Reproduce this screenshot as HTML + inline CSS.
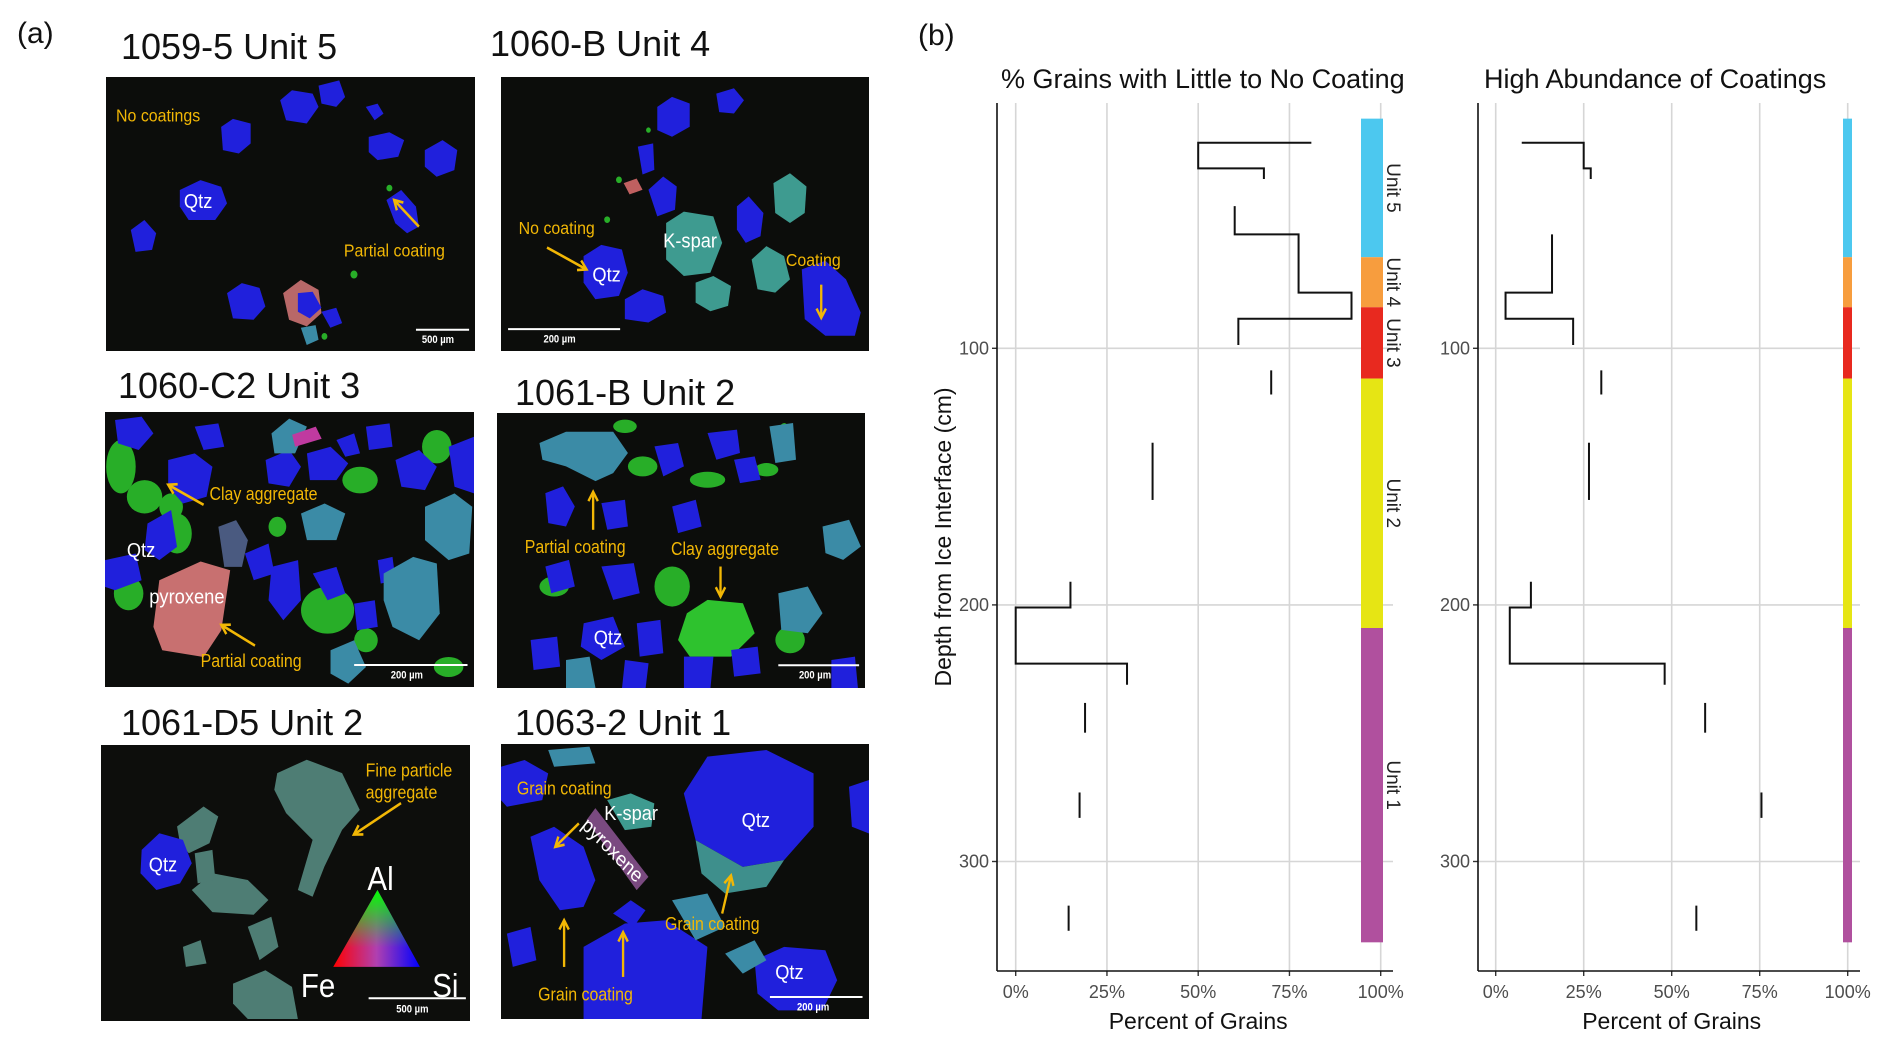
<!DOCTYPE html>
<html><head><meta charset="utf-8">
<style>
html,body{margin:0;padding:0;background:#fff;}
body{width:1892px;height:1043px;position:relative;overflow:hidden;font-family:"Liberation Sans",sans-serif;}
.ttl{position:absolute;font-size:36px;color:#111;white-space:nowrap;line-height:1;}
.pl{position:absolute;font-size:30px;color:#111;line-height:1;}
svg.img{position:absolute;}
.y{fill:#f2b705;font-family:"Liberation Sans",sans-serif;font-size:27px;}
.w{fill:#fff;font-family:"Liberation Sans",sans-serif;font-size:31px;}
.sb{fill:#fff;font-family:"Liberation Sans",sans-serif;font-size:16px;font-weight:bold;}
.b{fill:#2020dc;}.t{fill:#3b8ba6;}.g{fill:#2ecb2e;opacity:.85;}.ag{fill:#4e7d74;}
</style></head><body>
<svg width="0" height="0" style="position:absolute"><defs>
<marker id="ah" viewBox="0 0 10 10" refX="8" refY="5" markerWidth="5" markerHeight="5" orient="auto"><path d="M1,1 L8,5 L1,9" fill="none" stroke="#f2b705" stroke-width="2"/></marker>
<linearGradient id="tri1" x1="0" y1="0" x2="1" y2="0"><stop offset="0" stop-color="#ff0000"/><stop offset=".5" stop-color="#b040b0"/><stop offset="1" stop-color="#0000ff"/></linearGradient>
<linearGradient id="tri2" x1="0" y1="0" x2="0" y2="1"><stop offset="0" stop-color="#00ff00"/><stop offset=".75" stop-color="#00ff00" stop-opacity="0"/></linearGradient>
</defs></svg>

<div class="pl" style="left:17px;top:19px">(a)</div>
<div class="ttl" style="left:121px;top:29px">1059-5 Unit 5</div>
<div class="ttl" style="left:490px;top:26px">1060-B Unit 4</div>
<div class="ttl" style="left:118px;top:368px">1060-C2 Unit 3</div>
<div class="ttl" style="left:515px;top:375px">1061-B Unit 2</div>
<div class="ttl" style="left:121px;top:705px">1061-D5 Unit 2</div>
<div class="ttl" style="left:515px;top:705px">1063-2 Unit 1</div>

<!-- image 1 -->
<svg class="img" style="left:106px;top:77px" width="369" height="274" viewBox="180 115 625 412" preserveAspectRatio="none">
<rect x="180" y="115" width="625" height="412" fill="#0c0d0b"/>
<polygon class="b" points="375,190 395,178 425,185 425,215 405,230 378,225"/>
<polygon class="b" points="475,150 495,135 530,140 540,160 520,185 485,180"/>
<polygon class="b" points="540,128 575,120 585,145 570,160 545,155"/>
<polygon class="b" points="620,160 640,155 650,170 635,180"/>
<polygon class="b" points="625,205 660,198 685,210 675,235 640,240 625,228"/>
<polygon class="b" points="720,225 750,210 775,225 770,255 740,265 720,250"/>
<polygon class="b" points="305,285 340,270 375,280 385,305 365,330 320,330 305,310"/>
<polygon class="b" points="222,345 245,330 265,350 258,375 230,378"/>
<polygon class="b" points="655,300 680,285 705,310 710,340 690,350 670,335"/>
<polygon class="b" points="385,440 410,425 440,432 450,460 430,480 395,478"/>
<polygon fill="#b86868" points="480,440 510,420 540,435 545,470 520,490 490,480"/>
<polygon class="b" points="505,440 530,438 545,462 525,478 505,468"/>
<polygon class="b" points="545,468 570,462 580,485 560,492"/>
<polygon class="t" points="510,492 535,488 540,510 520,518"/>
<circle class="g" cx="600" cy="412" r="6"/><circle class="g" cx="660" cy="282" r="5"/><circle class="g" cx="550" cy="505" r="5"/>
<text class="y" x="197" y="182">No coatings</text>
<text class="w" x="312" y="312">Qtz</text>
<text class="y" x="583" y="385">Partial coating</text>
<line x1="710" y1="340" x2="668" y2="300" stroke="#f2b705" stroke-width="4" marker-end="url(#ah)"/>
<line x1="705" y1="495" x2="795" y2="495" stroke="#fff" stroke-width="3"/>
<text class="sb" x="715" y="515">500 µm</text>
</svg>

<!-- image 2 -->
<svg class="img" style="left:501px;top:77px" width="368" height="274" viewBox="850 115 624 413" preserveAspectRatio="none">
<rect x="850" y="115" width="624" height="413" fill="#0c0d0b"/>
<polygon class="b" points="1115,160 1140,145 1170,155 1170,190 1140,205 1115,195"/>
<polygon class="b" points="1215,140 1245,132 1262,150 1245,170 1220,168"/>
<polygon class="b" points="1082,220 1108,215 1110,255 1090,262"/>
<polygon class="b" points="1100,285 1125,265 1148,280 1145,315 1115,325"/>
<polygon fill="#c06060" points="1058,275 1080,268 1090,285 1068,292"/>
<polygon fill="#3e9b90" points="1130,335 1160,318 1210,325 1225,365 1205,410 1160,415 1130,390"/>
<polygon class="b" points="1250,310 1270,295 1295,320 1290,355 1265,365 1250,345"/>
<polygon fill="#3e9b90" points="1312,275 1340,260 1368,280 1365,320 1340,335 1315,320"/>
<polygon fill="#3e9b90" points="1275,390 1300,370 1330,385 1340,420 1315,440 1285,435"/>
<polygon class="b" points="990,385 1020,368 1055,375 1065,410 1050,445 1010,450 990,425"/>
<polygon class="b" points="1060,450 1090,435 1125,445 1130,470 1100,485 1060,480"/>
<polygon fill="#3e9b90" points="1180,425 1210,415 1240,430 1235,460 1205,468 1180,455"/>
<polygon class="b" points="1360,405 1400,392 1435,420 1460,470 1450,505 1400,505 1365,480"/>
<circle class="g" cx="1050" cy="270" r="5"/><circle class="g" cx="1030" cy="330" r="5"/><circle class="g" cx="1100" cy="195" r="4"/>
<text class="y" x="880" y="352">No coating</text>
<text class="w" x="1125" y="372">K-spar</text>
<text class="w" x="1005" y="423">Qtz</text>
<text class="y" x="1333" y="400">Coating</text>
<line x1="928" y1="372" x2="995" y2="405" stroke="#f2b705" stroke-width="4" marker-end="url(#ah)"/>
<line x1="1393" y1="428" x2="1393" y2="478" stroke="#f2b705" stroke-width="4" marker-end="url(#ah)"/>
<line x1="862" y1="495" x2="1052" y2="495" stroke="#fff" stroke-width="3"/>
<text class="sb" x="922" y="515">200 µm</text>
</svg>

<!-- image 3 -->
<svg class="img" style="left:105px;top:412px" width="369" height="275" viewBox="178 618 625 412" preserveAspectRatio="none">
<rect x="178" y="618" width="625" height="412" fill="#0c0d0b"/>
<g class="g">
<ellipse cx="205" cy="700" rx="25" ry="40"/><ellipse cx="245" cy="745" rx="30" ry="25"/><ellipse cx="300" cy="800" rx="25" ry="30"/>
<ellipse cx="218" cy="890" rx="25" ry="25"/><ellipse cx="290" cy="760" rx="20" ry="20"/><ellipse cx="555" cy="915" rx="45" ry="35"/>
<ellipse cx="610" cy="720" rx="30" ry="20"/><ellipse cx="620" cy="960" rx="20" ry="18"/><ellipse cx="740" cy="670" rx="25" ry="25"/>
<ellipse cx="470" cy="790" rx="15" ry="15"/><ellipse cx="760" cy="1000" rx="25" ry="15"/>
</g>
<polygon class="b" points="195,630 240,625 260,650 235,675 200,665"/>
<polygon class="b" points="285,690 330,680 360,700 350,745 310,755 285,730"/>
<polygon class="b" points="330,640 370,635 380,670 345,675"/>
<polygon class="b" points="450,690 490,675 510,700 490,730 455,725"/>
<polygon class="b" points="520,680 560,670 590,695 570,720 525,720"/>
<polygon class="b" points="570,660 600,650 610,680 585,685"/>
<polygon class="b" points="620,640 660,635 665,670 625,675"/>
<polygon class="b" points="670,690 710,675 740,700 720,735 680,730"/>
<polygon class="b" points="760,670 803,655 803,740 770,730"/>
<polygon class="b" points="250,785 290,765 300,820 270,840 245,825"/>
<polygon class="b" points="178,840 230,830 240,870 195,885 178,880"/>
<polygon class="b" points="415,830 455,815 465,860 430,870"/>
<polygon class="b" points="460,850 505,840 510,900 480,930 455,900"/>
<polygon class="b" points="530,860 570,850 585,890 555,900"/>
<polygon class="b" points="600,905 635,900 640,940 605,945"/>
<polygon class="b" points="640,840 665,835 670,870 645,875"/>
<polygon class="t" points="460,650 490,628 520,640 500,680 465,680"/>
<polygon class="t" points="510,770 550,755 585,770 570,810 520,810"/>
<polygon class="t" points="650,860 700,835 740,845 745,920 710,960 665,940 650,900"/>
<polygon class="t" points="720,760 770,740 800,760 795,830 760,840 720,810"/>
<polygon fill="#4a5a80" points="370,790 400,780 420,810 410,850 380,850"/>
<polygon class="t" points="560,975 600,960 620,1000 590,1025 560,1010"/>
<polygon fill="#c03aa0" points="495,652 535,640 545,658 500,670"/>
<polygon fill="#c87070" points="270,870 340,842 390,855 375,945 345,985 275,975 260,940"/>
<text class="y" x="355" y="750">Clay aggregate</text>
<text class="w" x="215" y="835">Qtz</text>
<text class="w" x="253" y="905">pyroxene</text>
<text class="y" x="340" y="1000">Partial coating</text>
<line x1="345" y1="757" x2="285" y2="727" stroke="#f2b705" stroke-width="4" marker-end="url(#ah)"/>
<line x1="432" y1="968" x2="375" y2="937" stroke="#f2b705" stroke-width="4" marker-end="url(#ah)"/>
<line x1="600" y1="997" x2="792" y2="997" stroke="#fff" stroke-width="3"/>
<text class="sb" x="662" y="1017">200 µm</text>
</svg>

<!-- image 4 -->
<svg class="img" style="left:497px;top:413px" width="368" height="275" viewBox="843 620 624 412" preserveAspectRatio="none">
<rect x="843" y="620" width="624" height="412" fill="#0c0d0b"/>
<g class="g">
<ellipse cx="1090" cy="700" rx="25" ry="15"/><ellipse cx="1200" cy="720" rx="30" ry="12"/><ellipse cx="1140" cy="880" rx="30" ry="30"/>
<ellipse cx="940" cy="880" rx="25" ry="15"/><ellipse cx="1340" cy="960" rx="25" ry="20"/><ellipse cx="1300" cy="705" rx="20" ry="10"/>
<ellipse cx="1330" cy="660" rx="12" ry="25"/><ellipse cx="1060" cy="640" rx="20" ry="10"/>
</g>
<polygon points="1165,920 1200,900 1260,905 1280,950 1240,985 1170,985 1150,960" fill="#2ec22e"/>
<polygon class="t" points="915,665 960,648 1040,648 1065,680 1040,710 1010,722 960,700 920,690"/>
<polygon class="b" points="925,740 955,730 975,760 960,790 930,785"/>
<polygon class="b" points="1110,670 1150,665 1160,700 1125,715"/>
<polygon class="b" points="1200,650 1250,645 1255,680 1215,690"/>
<polygon class="b" points="1245,690 1280,685 1290,720 1255,725"/>
<polygon class="t" points="1305,640 1345,635 1350,690 1315,695"/>
<polygon class="b" points="1140,760 1180,750 1190,790 1150,800"/>
<polygon class="b" points="1020,755 1060,750 1065,790 1030,795"/>
<polygon class="b" points="925,850 965,840 975,880 935,890"/>
<polygon class="b" points="1020,850 1075,845 1085,890 1040,900"/>
<polygon class="b" points="990,935 1040,925 1060,970 1020,990 985,970"/>
<polygon class="b" points="900,960 945,955 950,1000 905,1005"/>
<polygon class="b" points="1080,935 1120,930 1125,980 1085,985"/>
<polygon class="b" points="1160,985 1210,985 1205,1032 1160,1032"/>
<polygon class="b" points="1240,975 1285,970 1290,1010 1245,1015"/>
<polygon class="t" points="1320,890 1370,880 1395,920 1370,950 1325,945"/>
<polygon class="t" points="1395,790 1440,780 1460,820 1430,840 1400,830"/>
<polygon class="b" points="1410,990 1450,985 1455,1032 1410,1032"/>
<polygon class="b" points="1060,990 1100,995 1095,1032 1055,1032"/>
<polygon class="t" points="960,990 1000,985 1010,1032 960,1032"/>
<text class="y" x="890" y="830">Partial coating</text>
<text class="y" x="1138" y="833">Clay aggregate</text>
<text class="w" x="1007" y="967">Qtz</text>
<line x1="1006" y1="795" x2="1006" y2="738" stroke="#f2b705" stroke-width="4" marker-end="url(#ah)"/>
<line x1="1222" y1="850" x2="1222" y2="895" stroke="#f2b705" stroke-width="4" marker-end="url(#ah)"/>
<line x1="1320" y1="998" x2="1457" y2="998" stroke="#fff" stroke-width="3"/>
<text class="sb" x="1355" y="1018">200 µm</text>
</svg>

<!-- image 5 -->
<svg class="img" style="left:101px;top:745px" width="369" height="276" viewBox="171 1118 626 413" preserveAspectRatio="none">
<rect x="171" y="1118" width="626" height="413" fill="#0d0e0c"/>
<polygon class="ag" points="470,1160 520,1140 580,1160 610,1215 580,1245 550,1300 530,1345 505,1335 530,1260 485,1220 465,1185"/>
<polygon class="ag" points="325,1335 360,1310 420,1320 455,1350 430,1372 360,1368"/>
<polygon class="ag" points="300,1240 345,1210 370,1225 355,1265 320,1280 305,1265"/>
<polygon class="ag" points="420,1390 460,1375 472,1420 440,1440"/>
<polygon class="ag" points="395,1475 450,1455 495,1480 505,1528 420,1528 395,1505"/>
<polygon class="ag" points="310,1420 340,1410 350,1445 315,1450"/>
<polygon class="ag" points="330,1280 360,1275 365,1320 335,1325"/>
<polygon class="b" points="240,1275 270,1250 310,1260 325,1295 305,1325 265,1335 238,1310"/>
<polygon points="640,1335 565,1450 712,1450" fill="url(#tri1)"/>
<polygon points="640,1335 565,1450 712,1450" fill="url(#tri2)"/>
<text class="w" x="623" y="1335" style="font-size:50px">Al</text>
<text class="w" x="510" y="1495" style="font-size:50px">Fe</text>
<text class="w" x="733" y="1495" style="font-size:50px">Si</text>
<text class="y" x="620" y="1165">Fine particle</text>
<text class="y" x="620" y="1198">aggregate</text>
<line x1="680" y1="1205" x2="600" y2="1252" stroke="#f2b705" stroke-width="4" marker-end="url(#ah)"/>
<text class="w" x="252" y="1307">Qtz</text>
<line x1="625" y1="1497" x2="790" y2="1497" stroke="#fff" stroke-width="3"/>
<text class="sb" x="672" y="1518">500 µm</text>
</svg>

<!-- image 6 -->
<svg class="img" style="left:501px;top:744px" width="368" height="275" viewBox="850 1116 624 412" preserveAspectRatio="none">
<rect x="850" y="1116" width="624" height="412" fill="#0c0d0b"/>
<polygon class="b" points="850,1150 890,1140 930,1160 920,1200 860,1210 850,1200"/>
<polygon class="b" points="1160,1190 1200,1135 1300,1125 1380,1160 1380,1240 1330,1290 1260,1300 1180,1260"/>
<polygon fill="#3e8f8c" points="1180,1260 1260,1300 1330,1290 1300,1330 1230,1340 1190,1310"/>
<polygon class="b" points="900,1255 940,1240 990,1270 1010,1320 990,1360 950,1365 915,1320"/>
<polygon class="b" points="990,1420 1060,1385 1130,1380 1200,1420 1190,1528 990,1528"/>
<polygon class="b" points="1280,1440 1330,1420 1400,1425 1420,1470 1395,1515 1320,1515 1285,1490"/>
<polygon class="b" points="1040,1370 1070,1350 1095,1365 1075,1390"/>
<polygon class="b" points="1440,1180 1474,1170 1474,1250 1445,1240"/>
<polygon class="b" points="860,1400 900,1390 910,1440 870,1450"/>
<polygon fill="#3e9b90" points="1030,1200 1070,1190 1110,1205 1105,1240 1060,1245"/>
<polygon class="t" points="1140,1350 1200,1340 1230,1390 1180,1410"/>
<polygon class="t" points="1230,1430 1280,1410 1300,1440 1260,1460"/>
<polygon class="t" points="930,1125 1000,1120 1010,1145 940,1150"/>
<polygon fill="#7a4a80" points="995,1230 1010,1212 1100,1315 1080,1335"/>
<text class="y" x="877" y="1192">Grain coating</text>
<text class="w" x="1025" y="1230">K-spar</text>
<text class="w" x="1258" y="1240">Qtz</text>
<text class="w" x="0" y="0" transform="translate(985,1240) rotate(42)">pyroxene</text>
<text class="y" x="1128" y="1395">Grain coating</text>
<text class="y" x="913" y="1500">Grain coating</text>
<text class="w" x="1315" y="1468">Qtz</text>
<line x1="982" y1="1235" x2="942" y2="1270" stroke="#f2b705" stroke-width="4" marker-end="url(#ah)"/>
<line x1="957" y1="1450" x2="957" y2="1380" stroke="#f2b705" stroke-width="4" marker-end="url(#ah)"/>
<line x1="1057" y1="1465" x2="1057" y2="1398" stroke="#f2b705" stroke-width="4" marker-end="url(#ah)"/>
<line x1="1225" y1="1370" x2="1240" y2="1313" stroke="#f2b705" stroke-width="4" marker-end="url(#ah)"/>
<line x1="1306" y1="1495" x2="1463" y2="1495" stroke="#fff" stroke-width="3"/>
<text class="sb" x="1352" y="1515">200 µm</text>
</svg>

<!-- panel b charts -->
<svg id="chart" style="position:absolute;left:0;top:0" width="1892" height="1043">
<text x="918" y="45" font-size="30" fill="#111" font-family="Liberation Sans">(b)</text>
<text x="1001" y="88" font-size="27" fill="#111" font-family="Liberation Sans">% Grains with Little to No Coating</text>
<text x="1484" y="88" font-size="27" fill="#111" font-family="Liberation Sans">High Abundance of Coatings</text>
<text transform="translate(951,537) rotate(-90)" text-anchor="middle" font-size="23" fill="#111" font-family="Liberation Sans">Depth from Ice Interface (cm)</text>
<g id="marks"></g>
</svg>

<script>
// shared data
const depthTicks = [100, 200, 300];
const pctTicks = [0, 25, 50, 75, 100];
const pctLabels = ["0%", "25%", "50%", "75%", "100%"];
// depth breakpoints for each sample group (cm)
const groupDepths = [
  [19.9, 19.9, 29.9, 34.0],
  [44.6, 55.6, 78.3, 88.5, 98.7],
  [108.6, 118],
  [136.8, 159.1],
  [191, 201, 222.9, 231.1],
  [238.2, 249.8],
  [273.1, 283],
  [317.2, 327]
];
const rightGroupDepths = [
  [19.9, 19.9, 29.9, 34.0],
  [55.6, 78.3, 88.5, 98.7],
  [108.6, 118],
  [136.8, 159.1],
  [191, 201, 222.9, 231.1],
  [238.2, 249.8],
  [273.1, 283],
  [317.2, 327]
];
const littleCoatingPct = [[81, 50, 68], [60, 77.5, 92, 61], [70], [37.5], [15, 0, 30.5], [19], [17.5], [14.5]];
const highCoatingPct = [[7.4, 25, 27], [16, 2.8, 22], [30], [26.5], [10, 4, 48], [59.5], [75.5], [57]];
const unitNames = ["Unit 5", "Unit 4", "Unit 3", "Unit 2", "Unit 1"];
const unitTop = [10.5, 64.5, 84, 111.8, 209];
const unitBottom = [64.5, 84, 111.8, 209, 331.5];
const unitColors = ["#4cc8ef", "#f79d3e", "#e8291f", "#e6e514", "#b0509e"];

const NS = "http://www.w3.org/2000/svg";
const marks = document.getElementById("marks");
function yScale(d) { return 91.7 + 2.566 * d; }
function mk(tag, attrs) {
  const e = document.createElementNS(NS, tag);
  for (const k in attrs) e.setAttribute(k, attrs[k]);
  marks.appendChild(e);
  return e;
}

function drawChart(cfg, vals, depths, prefix) {
  const xs = p => cfg.x0 + p * cfg.k;
  const top = 103, bot = 971;
  pctTicks.forEach((p, i) => {
    const l = mk("line", {x1: xs(p), x2: xs(p), y1: top, y2: bot, stroke: "#d6d6d6", "stroke-width": 1.6});
    
    
    const tk = mk("line", {x1: xs(p), x2: xs(p), y1: bot, y2: bot + 5, stroke: "#333", "stroke-width": 1.4});
    
    
    const t = mk("text", {x: xs(p), y: 998, "text-anchor": "middle", "font-size": 18, fill: "#4d4d4d", "font-family": "Liberation Sans"});
    t.textContent = pctLabels[i];
    
    
  });
  depthTicks.forEach(d => {
    const l = mk("line", {x1: cfg.axis, x2: cfg.right, y1: yScale(d), y2: yScale(d), stroke: "#d6d6d6", "stroke-width": 1.6});
    
    
    const tk = mk("line", {x1: cfg.axis - 5, x2: cfg.axis, y1: yScale(d), y2: yScale(d), stroke: "#333", "stroke-width": 1.4});
    
    
    const t = mk("text", {x: cfg.axis - 8, y: yScale(d) + 6, "text-anchor": "end", "font-size": 18, fill: "#4d4d4d", "font-family": "Liberation Sans"});
    t.textContent = d;
    
    
  });
  unitNames.forEach((n, i) => {
    const r = mk("rect", {x: cfg.barX, y: yScale(unitTop[i]), width: cfg.barW, height: yScale(unitBottom[i]) - yScale(unitTop[i]), fill: unitColors[i]});
    
    
    if (cfg.labels) {
      const cy = (yScale(unitTop[i]) + yScale(unitBottom[i])) / 2;
      const t = mk("text", {transform: "translate(" + (cfg.barX + cfg.barW + 4) + "," + cy + ") rotate(90)", "text-anchor": "middle", "font-size": 19, fill: "#222", "font-family": "Liberation Sans"});
      t.textContent = n;
      
      
    }
  });
  vals.forEach((v, gi) => {
    const d = depths[gi];
    let pts = [];
    for (let i = 0; i < v.length; i++) {
      pts.push(xs(v[i]) + "," + yScale(d[i]));
      pts.push(xs(v[i]) + "," + yScale(d[i + 1]));
    }
    const pl = mk("polyline", {points: pts.join(" "), fill: "none", stroke: "#111", "stroke-width": 2});
    
    
  });
  const ay = mk("line", {x1: cfg.axis, x2: cfg.axis, y1: top, y2: bot, stroke: "#111", "stroke-width": 1.6});
  
  
  const ax = mk("line", {x1: cfg.axis, x2: cfg.right, y1: bot, y2: bot, stroke: "#111", "stroke-width": 1.6});
  
  
  const xt = mk("text", {x: (xs(0) + xs(100)) / 2, y: 1029, "text-anchor": "middle", "font-size": 23, fill: "#111", "font-family": "Liberation Sans"});
  xt.textContent = "Percent of Grains";
  
  
}

drawChart({x0: 1015.7, k: 3.65, axis: 997, right: 1393, barX: 1361, barW: 22, labels: true}, littleCoatingPct, groupDepths, 'left');
drawChart({x0: 1495.7, k: 3.52, axis: 1478, right: 1860, barX: 1843, barW: 9, labels: false}, highCoatingPct, rightGroupDepths, 'right');
</script>
</body></html>
